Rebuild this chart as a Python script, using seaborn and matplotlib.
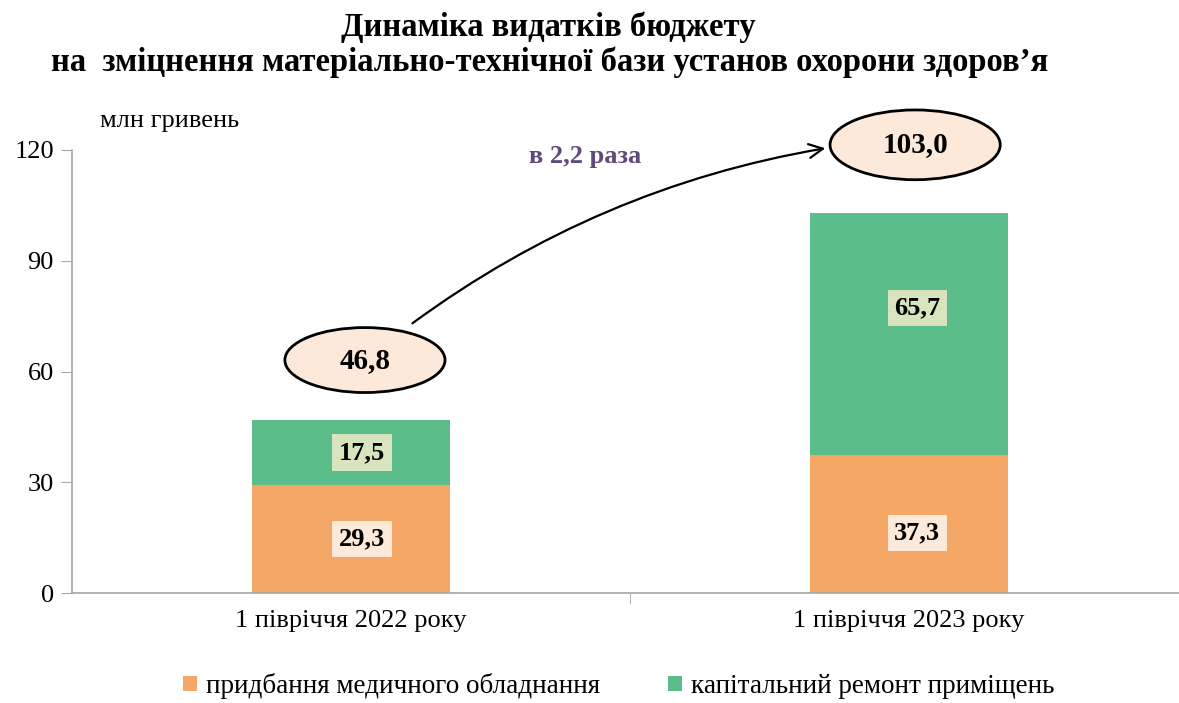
import pandas as pd
import seaborn as sns
import matplotlib.pyplot as plt
from matplotlib.patches import Ellipse, Patch

# Data
periods = ["1 півріччя 2022 року", "1 півріччя 2023 року"]
equipment = [29.3, 37.3]      # придбання медичного обладнання
repairs = [17.5, 65.7]        # капітальний ремонт приміщень
totals = [46.8, 103.0]
equipment_labels = ["29,3", "37,3"]
repairs_labels = ["17,5", "65,7"]
total_labels = ["46,8", "103,0"]
series_names = ["придбання медичного обладнання", "капітальний ремонт приміщень"]
growth_label = "в 2,2 раза"

colors = {"equipment": "#F5A866", "repairs": "#5BBD8A"}

df = pd.DataFrame({"period": periods, "equipment": equipment, "repairs": repairs, "total": totals})

sns.set_style("white")
plt.rcParams["font.family"] = ["Liberation Serif", "DejaVu Serif"]
plt.rcParams["text.color"] = "black"
plt.rcParams["xtick.color"] = "black"
plt.rcParams["ytick.color"] = "black"

fig = plt.figure(figsize=(11.79, 7.03), dpi=100)
ax = fig.add_axes([72 / 1179, 1 - 593 / 703, (1188 - 72) / 1179, (593 - 150) / 703])

# Stacked bars: totals in green, orange on top covering the lower part
sns.barplot(data=df, x="period", y="total", color=colors["repairs"], width=0.355,
            saturation=1, ax=ax, edgecolor="none")
sns.barplot(data=df, x="period", y="equipment", color=colors["equipment"], width=0.355,
            saturation=1, ax=ax, edgecolor="none")

ax.set_xlim(-0.5, 1.5)
ax.set_ylim(0, 120)
ax.set_yticks([0, 30, 60, 90, 120])
ax.set_xlabel("")
ax.set_ylabel("")

for side in ["top", "right"]:
    ax.spines[side].set_visible(False)
for side in ["left", "bottom"]:
    ax.spines[side].set_color("#A6A6A6")
    ax.spines[side].set_linewidth(1.2)

ax.tick_params(axis="y", which="major", length=8, color="#A6A6A6", labelcolor="black",
               labelsize=19, pad=5, left=True)
ax.tick_params(axis="x", which="major", length=0, labelcolor="black", labelsize=19, pad=12)
ax.set_xticks([0.5], minor=True)
ax.tick_params(axis="x", which="minor", length=8, color="#A6A6A6", bottom=True)

# Segment value labels
label_offsets = [(0.02, 0, 0.02, 0), (0.015, -2.3, 0.015, 7)]
for i in range(len(periods)):
    dx1, dy1, dx2, dy2 = label_offsets[i]
    ax.text(i + dx1, equipment[i] / 2 + dy1, equipment_labels[i], ha="center", va="center",
            fontsize=19, fontweight="bold",
            bbox=dict(boxstyle="square,pad=0.25", fc="#FDE9D9", ec="none"))
    ax.text(i + dx2, equipment[i] + repairs[i] / 2 + dy2, repairs_labels[i], ha="center", va="center",
            fontsize=19, fontweight="bold",
            bbox=dict(boxstyle="square,pad=0.25", fc="#D7E4BD", ec="none"))

# Total ellipses
ell_offsets = [(0.025, 16.3), (0.011, 18.4)]
ell_sizes = [(0.287, 17.6), (0.305, 18.9)]
for i in range(len(periods)):
    cx = i + ell_offsets[i][0]
    cy = totals[i] + ell_offsets[i][1]
    e = Ellipse((cx, cy), ell_sizes[i][0], ell_sizes[i][1], fc="#FDE9D9", ec="black",
                lw=2, clip_on=False, zorder=5)
    ax.add_patch(e)
    ax.text(cx, cy, total_labels[i], ha="center", va="center", fontsize=21,
            fontweight="bold", zorder=6, clip_on=False)

# Growth arrow
ax.annotate("", xy=(0.855, 120.6), xytext=(0.106, 72.6),
            arrowprops=dict(arrowstyle="->,head_length=1.0,head_width=0.5", color="black",
                            lw=1.6, connectionstyle="arc3,rad=-0.12"),
            annotation_clip=False, zorder=4)
ax.text(0.42, 118.2, growth_label, ha="center", va="center", fontsize=19,
        fontweight="bold", color="#604A7B")

# Titles and unit label
fig.text(548 / 1179, 1 - 27 / 703, "Динаміка видатків бюджету", ha="center", va="center",
         fontsize=23.5, fontweight="bold")
fig.text(550 / 1179, 1 - 62 / 703, "на  зміцнення матеріально-технічної бази установ охорони здоров’я",
         ha="center", va="center", fontsize=23.5, fontweight="bold")
fig.text(170 / 1179, 1 - 121 / 703, "млн гривень", ha="center", va="center", fontsize=19)

# Legend
handles = [Patch(fc=colors["equipment"], ec="none"), Patch(fc=colors["repairs"], ec="none")]
fig.legend(handles, series_names, loc="center", bbox_to_anchor=(0.525, 1 - 686 / 703),
           ncol=2, frameon=False, fontsize=19.5, handlelength=0.5, handleheight=0.5,
           handletextpad=0.35, columnspacing=2.5, borderpad=0.2)

fig.savefig("out.png", dpi=100)
plt.close(fig)
